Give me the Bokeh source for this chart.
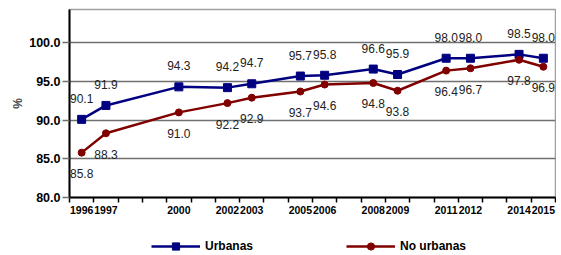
from bokeh.plotting import figure
from bokeh.layouts import column
from bokeh.models import (Range1d, FixedTicker, Legend, LegendItem, ColumnDataSource,
                          CustomJSTickFormatter)
from bokeh.embed import file_html
from bokeh.resources import INLINE
from bokeh.core.properties import value

years = [1996, 1997, 2000, 2002, 2003, 2005, 2006, 2008, 2009, 2011, 2012, 2014, 2015]
urbanas = [90.1, 91.9, 94.3, 94.2, 94.7, 95.7, 95.8, 96.6, 95.9, 98.0, 98.0, 98.5, 98.0]
no_urbanas = [85.8, 88.3, 91.0, 92.2, 92.9, 93.7, 94.6, 94.8, 93.8, 96.4, 96.7, 97.8, 96.9]
y_ticks = [80, 85, 90, 95, 100]
series_names = ["Urbanas", "No urbanas"]

BLUE = "#000080"
RED = "#800000"
FONT = "Liberation Sans"
W = 556

p = figure(width=W, height=236, output_backend="svg", toolbar_location=None,
           x_range=Range1d(1995.5, 2015.5), y_range=Range1d(80, 104.3),
           min_border_left=69, min_border_right=1, min_border_top=9, min_border_bottom=39)

src = ColumnDataSource(dict(
    x=years, u=urbanas, n=no_urbanas,
    ut=[f"{v:.1f}" for v in urbanas], nt=[f"{v:.1f}" for v in no_urbanas]))

lu = p.line("x", "u", source=src, line_color=BLUE, line_width=2.5)
mu = p.scatter("x", "u", source=src, marker="square", size=8, fill_color=BLUE, line_color=BLUE)
ln = p.line("x", "n", source=src, line_color=RED, line_width=2.5)
mn = p.scatter("x", "n", source=src, marker="circle", size=7, fill_color=RED, line_color=RED)

p.text("x", "u", text="ut", source=src, y_offset=-21, text_align="center",
       text_baseline="middle", text_font=value(FONT), text_font_size="12px", text_color="#222222")
p.text("x", "n", text="nt", source=src, y_offset=21, text_align="center",
       text_baseline="middle", text_font=value(FONT), text_font_size="12px", text_color="#222222")

# axes
p.xaxis.ticker = FixedTicker(ticks=years, minor_ticks=[y + 0.5 for y in range(1995, 2016)])
p.xaxis.major_tick_out = 5
p.xaxis.major_tick_in = 0
p.xaxis.major_tick_line_color = None
p.xaxis.minor_tick_out = 5
p.xaxis.minor_tick_in = 0
p.xaxis.minor_tick_line_color = "black"
p.xaxis.minor_tick_line_width = 1.5
p.xaxis.major_label_standoff = 3
p.xaxis.major_label_text_font = FONT
p.xaxis.major_label_text_font_style = "bold"
p.xaxis.major_label_text_font_size = "10.5px"
p.xaxis.major_label_text_color = "black"
p.xaxis.axis_line_color = "black"
p.xaxis.axis_line_width = 2

p.yaxis.ticker = FixedTicker(ticks=y_ticks, minor_ticks=[])
p.yaxis.formatter = CustomJSTickFormatter(code="return tick.toFixed(1);")
p.yaxis.major_tick_out = 7
p.yaxis.major_tick_in = 0
p.yaxis.major_tick_line_color = "#707070"
p.yaxis.major_tick_line_width = 1.5
p.yaxis.major_label_standoff = 2
p.yaxis.major_label_text_font = FONT
p.yaxis.major_label_text_font_style = "bold"
p.yaxis.major_label_text_font_size = "12.5px"
p.yaxis.major_label_text_color = "black"
p.yaxis.axis_line_color = "black"
p.yaxis.axis_line_width = 2
p.yaxis.axis_label = "%"
p.yaxis.axis_label_text_font = FONT
p.yaxis.axis_label_text_font_style = "bold"
p.yaxis.axis_label_text_font_size = "12px"
p.yaxis.axis_label_standoff = 1

p.xgrid.grid_line_color = None
p.ygrid.ticker = FixedTicker(ticks=y_ticks[1:])
p.ygrid.grid_line_color = "#707070"
p.ygrid.grid_line_width = 1.5

p.outline_line_color = "#a0a0a0"
p.outline_line_width = 1.5
p.background_fill_color = "white"
p.border_fill_color = "white"

# legend strip below the chart (proxy renderers lie outside its visible range)
q = figure(width=W, height=19, output_backend="svg", toolbar_location=None,
           x_axis_type=None, y_axis_type=None,
           x_range=Range1d(0, 1), y_range=Range1d(0, 1),
           min_border_left=0, min_border_right=0, min_border_top=0, min_border_bottom=0)
q.grid.grid_line_color = None
q.outline_line_color = None
q.background_fill_color = "white"
q.border_fill_color = "white"
qlu = q.line("x", "u", source=src, line_color=BLUE, line_width=2.5)
qmu = q.scatter("x", "u", source=src, marker="square", size=8, fill_color=BLUE, line_color=BLUE)
qln = q.line("x", "n", source=src, line_color=RED, line_width=2.5)
qmn = q.scatter("x", "n", source=src, marker="circle", size=7, fill_color=RED, line_color=RED)

legend = Legend(items=[LegendItem(label=series_names[0], renderers=[qlu, qmu]),
                       LegendItem(label=series_names[1], renderers=[qln, qmn])],
                orientation="horizontal", location=(82, 0),
                glyph_width=49, glyph_height=18, label_standoff=5, spacing=93,
                padding=0, margin=0, border_line_color=None, background_fill_alpha=0,
                label_text_font=FONT, label_text_font_style="bold", label_text_color="black",
                label_text_font_size="12px", label_height=18)
q.add_layout(legend, "center")

layout = column(p, q, spacing=0)
open("out.html", "w").write(file_html(layout, INLINE))
